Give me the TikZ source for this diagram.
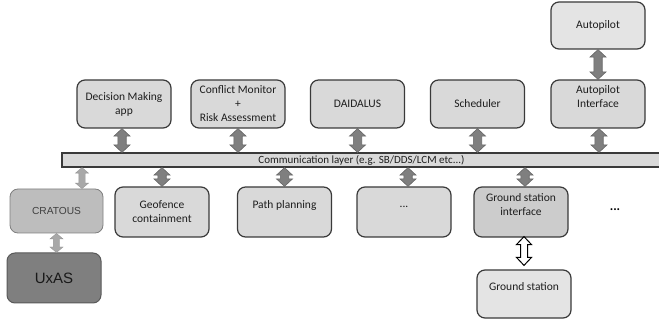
\documentclass[tikz,border=0pt]{standalone}
\usepackage{fontspec}
\setmainfont{Carlito}
\newfontfamily\arialf{Liberation Sans}
\usetikzlibrary{calc}
\definecolor{boxfill}{HTML}{D9D9D9}
\definecolor{boxline}{HTML}{3A3A3A}
\definecolor{lightfill}{HTML}{E4E4E4}
\definecolor{darkfill}{HTML}{CCCCCC}
\definecolor{crfill}{HTML}{BDBDBD}
\definecolor{crline}{HTML}{7F7F7F}
\definecolor{uxfill}{HTML}{7F7F7F}
\definecolor{uxline}{HTML}{595959}
\definecolor{txt}{HTML}{1E1E1E}
\definecolor{arrfill}{HTML}{7F7F7F}
\definecolor{arrline}{HTML}{666666}
\definecolor{larrfill}{HTML}{A8A8A8}
\newcommand\vdarrow[6][]{%
  \draw[#1] let \p1=(#5), \p2=(#6) in
    (\x1,\y1) -- (\x1+#2,\y1-#4) -- (\x1+#3,\y1-#4) -- (\x1+#3,\y2+#4)
    -- (\x1+#2,\y2+#4) -- (\x1,\y2) -- (\x1-#2,\y2+#4) -- (\x1-#3,\y2+#4)
    -- (\x1-#3,\y1-#4) -- (\x1-#2,\y1-#4) -- cycle;}
\tikzset{
  box/.style={draw=boxline, line width=1.2pt, fill=boxfill, rounded corners=8pt,
    minimum width=94pt, minimum height=48pt, align=center, inner sep=0pt,
    font=\fontsize{11.5}{14}\selectfont, text=txt},
  heavy/.style={fill=arrfill, draw=arrline, line width=0.6pt},
  light/.style={fill=larrfill, draw=larrfill!90!black, line width=0.4pt},
  hollow/.style={fill=white, draw=black, line width=1pt},
}
\begin{document}
\begin{tikzpicture}[x=1pt,y=-1pt]
\useasboundingbox (0,0) rectangle (659,323);
% top row
\node[box, fill=lightfill, minimum height=47pt] (ap) at (598,25.5) {Autopilot};
\node[box] (dm) at (124,104) {Decision Making\\app};
\node[box] (cm) at (238,104) {Conflict Monitor\\+\\Risk Assessment};
\node[box] (dai) at (357.5,104) {DAIDALUS};
\node[box] (sch) at (477.5,104) {Scheduler};
\node[box] (api) at (598,104) {Autopilot\\Interface\\~};
% communication bar
\node[draw=boxline, line width=1.2pt, fill=boxfill, minimum width=599pt, minimum height=14pt,
  inner sep=0pt, font=\fontsize{11}{13}\selectfont, text=txt] (bar) at (361.5,160)
  {Communication layer (e.g. SB/DDS/LCM etc...)};
% bottom row
\node[box, fill=crfill, draw=crline, line width=0.8pt, minimum width=93pt, minimum height=44pt,
  font=\arialf\fontsize{10.2}{12}\selectfont, text=black!75] (cr) at (56.5,211) {CRATOUS};
\node[box, minimum height=50pt] (geo) at (162,212) {Geofence\\containment};
\node[box, minimum height=50pt] (pp) at (284.5,212) {Path planning\\~};
\node[box, minimum height=50pt] (dots) at (404,212) {...\\[-4pt]~};
\node[box, fill=darkfill, minimum height=50pt] (gsi) at (521,212) {Ground station\\interface\\~};
\node[font=\bfseries\fontsize{13}{14}\selectfont, text=black] (more) at (615,210) {...};
\node[box, fill=uxfill, draw=uxline, line width=1pt, minimum height=50pt,
  font=\arialf\fontsize{15}{17}\selectfont, text=black!90] (ux) at (54,278) {UxAS};
\node[box, fill=lightfill, minimum height=48pt] (gs) at (524,294) {Ground station\\~};
% connectors
\coordinate (crx) at ($(cr.north)+(25.5,0)$);
\vdarrow[heavy]{8pt}{4.2pt}{7.5pt}{ap.south}{api.north}
\vdarrow[heavy]{8pt}{4.2pt}{7.5pt}{$(dm.south)+(-2,0)$}{bar.north}
\vdarrow[heavy]{8pt}{4.2pt}{7.5pt}{cm.south}{bar.north}
\vdarrow[heavy]{8pt}{4.2pt}{7.5pt}{dai.south}{bar.north}
\vdarrow[heavy]{8pt}{4.2pt}{7.5pt}{sch.south}{bar.north}
\vdarrow[heavy]{8pt}{4.2pt}{7.5pt}{$(api.south)+(1,0)$}{bar.north}
\vdarrow[heavy]{8pt}{4.2pt}{7.5pt}{bar.south -| geo.north}{geo.north}
\vdarrow[heavy]{8pt}{4.2pt}{7.5pt}{bar.south -| pp.north}{pp.north}
\vdarrow[heavy]{8pt}{4.2pt}{7.5pt}{$(bar.south -| dots.north)+(4,0)$}{dots.north}
\vdarrow[heavy]{8pt}{4.2pt}{7.5pt}{$(bar.south -| gsi.north)+(4,0)$}{gsi.north}
\vdarrow[light]{6.5pt}{3.2pt}{5.5pt}{bar.south -| crx}{crx}
\vdarrow[light]{6.5pt}{3.2pt}{5.5pt}{cr.south}{ux.north}
\vdarrow[hollow]{7.5pt}{3.5pt}{8pt}{$(gsi.south)+(3,-1)$}{$(gs.north)+(0,-4)$}
\end{tikzpicture}
\end{document}
